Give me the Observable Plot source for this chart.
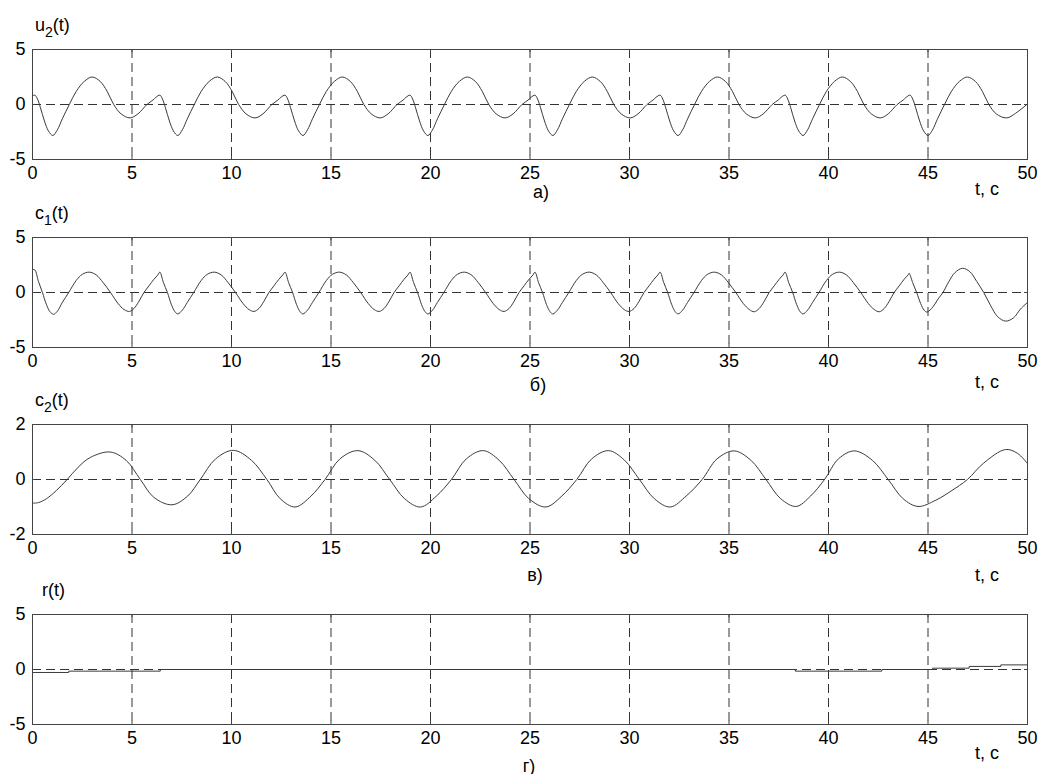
<!DOCTYPE html>
<html><head><meta charset="utf-8">
<script src="https://cdn.jsdelivr.net/npm/d3@7"></script>
<script src="https://cdn.jsdelivr.net/npm/@observablehq/plot@0.6"></script>
<style>
body{margin:0;background:#fff;width:1040px;height:774px;position:relative;overflow:hidden;font-family:"Liberation Sans",Arial,sans-serif}
.panel{position:absolute;left:0}
.panel svg{overflow:visible}
</style></head><body>
<div id="p0" class="panel" style="top:0px"></div>
<div id="p1" class="panel" style="top:188px"></div>
<div id="p2" class="panel" style="top:375px"></div>
<div id="p3" class="panel" style="top:565px"></div>
<script>
const xTicks = [0,5,10,15,20,25,30,35,40,45,50];
const gridX = [5,10,15,20,25,30,35,40,45];
const yTicks5 = [-5,0,5];
const yTicks2 = [-2,0,2];

// u2(t)
const u2T = [0,0.12,0.25,0.4,0.6,0.8,1.02,1.25,1.5,1.85,2.2,2.6,3.0,3.4,3.75,4.08,4.45,4.9,5.3,5.75,6.05,6.2,
6.40,6.53,6.68,6.88,7.08,7.30,7.53,7.78,8.13,8.48,8.88,9.28,9.68,10.03,10.36,10.73,11.18,11.58,12.03,12.33,12.48,
12.69,12.82,12.97,13.17,13.37,13.59,13.82,14.07,14.42,14.77,15.17,15.57,15.97,16.32,16.65,17.02,17.47,17.87,18.32,18.62,18.77,
18.97,19.10,19.25,19.45,19.65,19.87,20.10,20.35,20.70,21.05,21.45,21.85,22.25,22.60,22.93,23.30,23.75,24.15,24.60,24.90,25.05,
25.25,25.38,25.53,25.73,25.93,26.15,26.38,26.63,26.98,27.33,27.73,28.13,28.53,28.88,29.21,29.58,30.03,30.43,30.88,31.18,31.33,
31.54,31.67,31.82,32.02,32.22,32.44,32.67,32.92,33.27,33.62,34.02,34.42,34.82,35.17,35.50,35.87,36.32,36.72,37.17,37.47,37.62,
37.82,37.95,38.10,38.30,38.50,38.72,38.95,39.20,39.55,39.90,40.30,40.70,41.10,41.45,41.78,42.15,42.60,43.00,43.45,43.75,43.90,
44.10,44.23,44.38,44.58,44.78,45.00,45.23,45.48,45.83,46.18,46.58,46.98,47.38,47.73,48.06,48.43,48.95,49.40,50.0];
const u2V = [0.80,0.85,0.5,-0.3,-1.5,-2.4,-2.82,-2.3,-1.3,0.0,1.2,2.1,2.5,2.1,1.2,0.0,-0.85,-1.22,-0.85,0.0,0.4,0.65,
0.85,0.5,-0.3,-1.5,-2.4,-2.82,-2.3,-1.3,0.0,1.2,2.1,2.5,2.1,1.2,0.0,-0.85,-1.22,-0.85,0.0,0.4,0.65,
0.85,0.5,-0.3,-1.5,-2.4,-2.82,-2.3,-1.3,0.0,1.2,2.1,2.5,2.1,1.2,0.0,-0.85,-1.22,-0.85,0.0,0.4,0.65,
0.85,0.5,-0.3,-1.5,-2.4,-2.82,-2.3,-1.3,0.0,1.2,2.1,2.5,2.1,1.2,0.0,-0.85,-1.22,-0.85,0.0,0.4,0.65,
0.85,0.5,-0.3,-1.5,-2.4,-2.82,-2.3,-1.3,0.0,1.2,2.1,2.5,2.1,1.2,0.0,-0.85,-1.22,-0.85,0.0,0.4,0.65,
0.85,0.5,-0.3,-1.5,-2.4,-2.82,-2.3,-1.3,0.0,1.2,2.1,2.5,2.1,1.2,0.0,-0.85,-1.22,-0.85,0.0,0.4,0.65,
0.85,0.5,-0.3,-1.5,-2.4,-2.82,-2.3,-1.3,0.0,1.2,2.1,2.5,2.1,1.2,0.0,-0.85,-1.22,-0.85,0.0,0.4,0.65,
0.85,0.5,-0.3,-1.5,-2.4,-2.82,-2.3,-1.3,0.0,1.2,2.1,2.5,2.1,1.2,0.0,-0.85,-1.22,-0.8,0.05];

// c1(t)
const c1T = [0,0.12,0.3,0.5,0.7,0.88,1.05,1.25,1.5,1.82,2.2,2.5,2.85,3.2,3.55,3.92,4.3,4.6,4.88,5.1,5.35,5.6,5.85,6.1,6.3,
6.40,6.58,6.78,6.98,7.16,7.30,7.53,7.78,8.10,8.48,8.78,9.13,9.48,9.83,10.20,10.58,10.88,11.13,11.38,11.63,11.88,12.13,12.38,12.58,
12.69,12.87,13.07,13.27,13.45,13.59,13.82,14.07,14.39,14.77,15.07,15.42,15.77,16.12,16.49,16.87,17.17,17.42,17.67,17.92,18.17,18.42,18.67,18.87,
18.97,19.15,19.35,19.55,19.73,19.87,20.10,20.35,20.67,21.05,21.35,21.70,22.05,22.40,22.77,23.15,23.45,23.70,23.95,24.20,24.45,24.70,24.95,25.15,
25.25,25.43,25.63,25.83,26.01,26.15,26.38,26.63,26.95,27.33,27.63,27.98,28.33,28.68,29.05,29.43,29.73,29.98,30.23,30.48,30.73,30.98,31.23,31.43,
31.54,31.72,31.92,32.12,32.30,32.44,32.67,32.92,33.24,33.62,33.92,34.27,34.62,34.97,35.34,35.72,36.02,36.27,36.52,36.77,37.02,37.27,37.52,37.72,
37.82,38.00,38.20,38.40,38.58,38.72,38.95,39.20,39.52,39.90,40.20,40.55,40.90,41.25,41.62,42.00,42.30,42.55,42.80,43.05,43.30,43.55,43.80,44.00,
44.05,44.23,44.43,44.63,44.80,44.95,45.25,45.5,45.75,46.05,46.35,46.73,47.1,47.45,47.8,48.15,48.5,48.9,49.3,49.65,50.0];
const c1V = [2.1,2.05,1.0,0.0,-1.1,-1.75,-1.98,-1.7,-0.9,0.0,1.1,1.65,1.85,1.6,0.9,0.0,-1.0,-1.55,-1.72,-1.45,-0.8,0.0,0.6,1.2,1.6,
1.85,0.9,0.0,-1.1,-1.75,-1.95,-1.6,-0.9,0.0,1.1,1.65,1.85,1.6,0.9,0.0,-1.0,-1.55,-1.72,-1.45,-0.8,0.0,0.6,1.2,1.6,
1.85,0.9,0.0,-1.1,-1.75,-1.95,-1.6,-0.9,0.0,1.1,1.65,1.85,1.6,0.9,0.0,-1.0,-1.55,-1.72,-1.45,-0.8,0.0,0.6,1.2,1.6,
1.85,0.9,0.0,-1.1,-1.75,-1.95,-1.6,-0.9,0.0,1.1,1.65,1.85,1.6,0.9,0.0,-1.0,-1.55,-1.72,-1.45,-0.8,0.0,0.6,1.2,1.6,
1.85,0.9,0.0,-1.1,-1.75,-1.95,-1.6,-0.9,0.0,1.1,1.65,1.85,1.6,0.9,0.0,-1.0,-1.55,-1.72,-1.45,-0.8,0.0,0.6,1.2,1.6,
1.85,0.9,0.0,-1.1,-1.75,-1.95,-1.6,-0.9,0.0,1.1,1.65,1.85,1.6,0.9,0.0,-1.0,-1.55,-1.75,-1.45,-0.8,0.0,0.6,1.2,1.6,
1.85,0.9,0.0,-1.1,-1.75,-1.95,-1.6,-0.9,0.0,1.1,1.65,1.85,1.6,0.9,0.0,-1.0,-1.55,-1.75,-1.45,-0.8,0.0,0.6,1.2,1.6,
1.75,0.9,0.0,-1.0,-1.6,-1.78,-1.3,-0.6,0.0,1.0,1.8,2.2,1.9,1.0,0.0,-1.2,-2.2,-2.6,-2.3,-1.5,-0.9];

// c2(t)
const c2T = [0,0.3,0.7,1.2,1.74,2.3,2.9,3.9,4.7,5.42,6.1,7.01,7.8,8.43,9.2,10.1,11.0,11.78,12.45,13.2,14.0,14.7,
15.45,16.35,17.2,17.95,18.7,19.5,20.3,21.05,21.8,22.65,23.45,24.2,24.95,25.8,26.6,27.35,28.1,28.95,29.75,30.5,
31.25,32.05,32.85,33.65,34.4,35.26,36.1,36.86,37.6,38.38,39.1,39.8,40.5,41.3,42.2,43.0,43.75,44.5,45.4,46.2,46.98,47.8,48.9,49.5,50];
const c2V = [-0.86,-0.84,-0.7,-0.4,0.0,0.45,0.8,1.0,0.7,0.0,-0.65,-0.92,-0.6,0.0,0.75,1.06,0.7,0.0,-0.7,-1.0,-0.6,0.0,
0.75,1.05,0.7,0.0,-0.7,-1.0,-0.6,0.0,0.75,1.05,0.7,0.0,-0.7,-1.0,-0.6,0.0,0.75,1.05,0.7,0.0,
-0.7,-1.0,-0.6,0.0,0.75,1.04,0.7,0.0,-0.7,-0.98,-0.6,0.0,0.75,1.04,0.7,0.0,-0.7,-0.98,-0.75,-0.4,0.0,0.6,1.09,0.95,0.58];

// r(t) (step-like)
const rT = [0,1.82,6.42,38.33,42.68,45.23,47.07,48.66,50];
const rV = [-0.27,-0.15,0,-0.15,0,0.12,0.28,0.42,0.42];

const FONT = "'Liberation Sans', Arial, sans-serif";
const fmt = d => (d < 0 ? "-" + Math.abs(d) : String(d));

function panel(id, T, V, yDomain, yTicks, curve, name, sub, letter, letterX, letterY, tcY, nameX) {
  const data = T.map((t, i) => ({t, v: V[i]}));
  const [y0, y1] = yDomain;
  const tl = (y1 - y0) * 0.03;
  const chart = Plot.plot({
    width: 1040, height: 200,
    marginLeft: 32, marginRight: 13, marginTop: 49, marginBottom: 41,
    style: {fontFamily: FONT, fontSize: "18px", color: "#000", background: "transparent"},
    x: {domain: [0, 50]},
    y: {domain: yDomain},
    marks: [
      Plot.ruleX(gridX, {stroke: "#333", strokeDasharray: "9,5", strokeWidth: 1}),
      Plot.ruleY([0], {stroke: "#333", strokeDasharray: "9,5", strokeWidth: 1}),
      Plot.ruleX(xTicks, {y1: y0, y2: y0 + tl, stroke: "#444"}),
      Plot.ruleX(xTicks, {y1: y1, y2: y1 - tl, stroke: "#444"}),
      Plot.ruleY(yTicks, {x1: 0, x2: 0.15, stroke: "#444"}),
      Plot.ruleY(yTicks, {x1: 50, x2: 49.85, stroke: "#444"}),
      Plot.line(data, {x: "t", y: "v", curve, stroke: "#3a3a3a", strokeWidth: 1}),
      Plot.frame({stroke: "#444", strokeWidth: 1}),
      Plot.axisX({ticks: xTicks, tickSize: 0, tickPadding: 7, tickFormat: fmt, label: null, fontSize: 18}),
      Plot.axisY({ticks: yTicks, tickSize: 0, tickPadding: 7, tickFormat: fmt, label: null, fontSize: 18})
    ]
  });
  document.getElementById(id).appendChild(chart);
  const svg = d3.select(chart);
  const t = svg.append("text").attr("x", nameX).attr("y", 31).attr("text-anchor", "start")
    .attr("font-family", FONT).attr("font-size", 18).attr("fill", "#000");
  t.append("tspan").text(name);
  if (sub) {
    t.append("tspan").attr("dy", 6).attr("font-size", 14).text(sub);
    t.append("tspan").attr("dy", -6).text("(t)");
  } else {
    t.append("tspan").text("(t)");
  }
  svg.append("text").attr("x", letterX).attr("y", letterY)
    .attr("text-anchor", "middle").attr("font-family", FONT).attr("font-size", 18).attr("fill", "#000")
    .text(letter);
  svg.append("text").attr("x", 975).attr("y", tcY).attr("text-anchor", "start")
    .attr("font-family", FONT).attr("font-size", 18).attr("fill", "#000")
    .text("t, с");
}

panel("p0", u2T, u2V, [-5, 5], yTicks5, "catmull-rom", "u", "2", "а)", 541, 198, 195, 35);
panel("p1", c1T, c1V, [-5, 5], yTicks5, "catmull-rom", "c", "1", "б)", 538, 203, 200, 35);
panel("p2", c2T, c2V, [-2, 2], yTicks2, "catmull-rom", "c", "2", "в)", 535, 206, 206, 35);
panel("p3", rT, rV, [-5, 5], yTicks5, "step-after", "r", null, "г)", 529, 207, 194, 42);
</script>
</body></html>
